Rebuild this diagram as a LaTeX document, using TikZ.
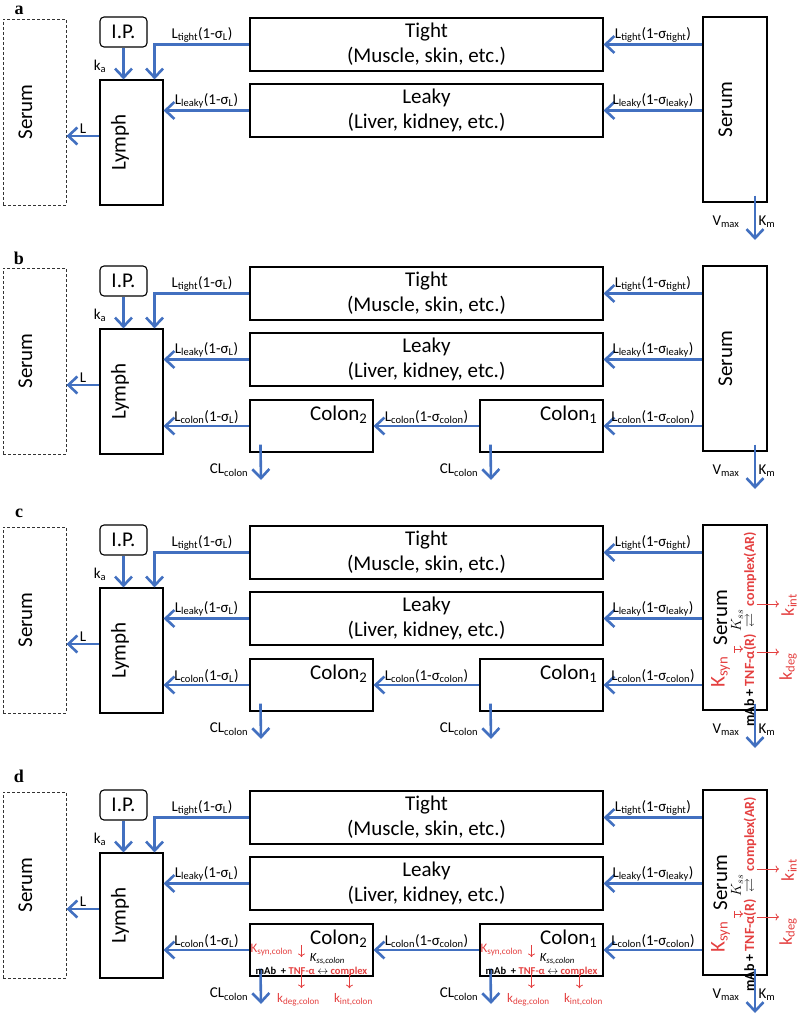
\documentclass[tikz,border=0pt]{standalone}
\usepackage{fontspec}
\setmainfont{Carlito}
\newfontfamily\letterfont{Liberation Serif}
\usepackage{amsmath,amssymb}
\usetikzlibrary{arrows.meta,positioning}
\definecolor{flowblue}{RGB}{66,112,192}
\definecolor{rxred}{RGB}{228,64,64}

\begin{document}
\begin{tikzpicture}[
        x=1pt, y=-1pt,
        box/.style={draw, line width=1.1pt, inner sep=0pt},
        dashbox/.style={draw=black!80, dash pattern=on 3pt off 2pt, line width=0.9pt, inner sep=0pt},
        big/.style={font=\fontsize{21}{25}\selectfont},
        lbl/.style={font=\fontsize{15}{18}\selectfont, inner sep=1pt},
        inbox/.style={font=\fontsize{13}{15}\selectfont, inner sep=0pt},
        flow/.style={draw=flowblue, line width=2.6pt, -{Straight Barb[length=9pt,width=17pt]}},
        rx/.style={draw=rxred, line width=0.8pt, -{To[length=3.5pt,width=7pt]}},
        rxbar/.style={draw=rxred, line width=0.8pt, {Bar[width=7pt]}-{To[length=3.5pt,width=7pt]}},
        letter/.style={font=\letterfont\bfseries\fontsize{18}{20}\selectfont, inner sep=0pt}
    ]
    \useasboundingbox (0,0) rectangle (800,1016);

    % parts that all four panels share
    \foreach \p/\o/\ly/\sx in {a/0/10/725.5, b/249/9/725.5, c/508/5/720.5, d/773/3/720.5} {
    \begin{scope}[shift={(0,\o)}, name prefix=\p-]
        \node[letter] (letter) at (19,\ly) {\p};
        \node[dashbox, minimum width=63pt, minimum height=186pt] (dserum) at (34.5,112) {};
        \node[big, rotate=90] (dserumtxt) at (25.5,112) {Serum};
        \node[box, rounded corners=4pt, minimum width=47pt, minimum height=30pt, big] (ip) at (123.5,32) {I.P.};
        \node[box, minimum width=63pt, minimum height=125pt] (lymph) at (131.5,142.5) {};
        \node[big, rotate=90] (lymphtxt) at (120,142.5) {Lymph};
        \node[box, big, align=center, minimum width=353pt, minimum height=53pt] (tight) at (426.5,44.5) {Tight\\(Muscle, skin, etc.)};
        \node[box, big, align=center, minimum width=353pt, minimum height=53pt] (leaky) at (426.5,110.5) {Leaky\\(Liver, kidney, etc.)};
        \node[box, minimum width=64pt, minimum height=185pt] (serum) at (735,109.5) {};
        \node[big, rotate=90] (serumtxt) at (\sx,109.5) {Serum};
        \coordinate (vout) at (755,240);

        \draw[flow] (ip) -- (ip |- lymph.north);
        \node[lbl] (ka) at (100,66) {k\textsubscript{a}};
        \draw[flow] (tight.west) -| ([xshift=-9pt]lymph.north east)
            node[lbl, above, pos=0.25] {L\textsubscript{tight}(1-σ\textsubscript{L})};
        \draw[flow] (leaky.west) -- (leaky.west -| lymph.east)
            node[lbl, above, midway] {L\textsubscript{leaky}(1-σ\textsubscript{L})};
        \draw[flow] ([yshift=6.5pt]lymph.west) -- ([yshift=6.5pt]lymph.west -| dserum.east)
            node[lbl, above, midway] {L};
        \draw[flow] (serum.west |- tight.east) -- (tight.east)
            node[lbl, above, midway] {L\textsubscript{tight}(1-σ\textsubscript{tight})};
        \draw[flow] (serum.west |- leaky.east) -- (leaky.east)
            node[lbl, above, midway] {L\textsubscript{leaky}(1-σ\textsubscript{leaky})};
        \draw[flow] ([xshift=20pt,yshift=7pt]serum.south) -- (vout);
        \node[lbl] (vmax) at (726,222) {V\textsubscript{max}};
        \node[lbl] (km) at (767,222) {K\textsubscript{m}};
    \end{scope}
    }

    % colon compartments (b, c, d)
    \foreach \p/\o in {b/249, c/508, d/773} {
    \begin{scope}[shift={(0,\o)}, name prefix=\p-]
        \node[box, minimum width=123pt, minimum height=52pt] (colontwo) at (311.5,177) {};
        \node[big, anchor=north east, inner sep=0pt] (colontwotxt) at ([xshift=-6pt,yshift=-6pt]colontwo.north east) {Colon\textsubscript{2}};
        \node[box, minimum width=123pt, minimum height=52pt] (colonone) at (541.5,177) {};
        \node[big, anchor=north east, inner sep=0pt] (colononetxt) at ([xshift=-6pt,yshift=-6pt]colonone.north east) {Colon\textsubscript{1}};
        \coordinate (cltwo) at (261,231);
        \coordinate (clone) at (491,231);

        \draw[flow] (colontwo.west) -- (colontwo.west -| lymph.east)
            node[lbl, above, midway] {L\textsubscript{colon}(1-σ\textsubscript{L})};
        \draw[flow] (colonone.west) -- (colontwo.east)
            node[lbl, above, midway] {L\textsubscript{colon}(1-σ\textsubscript{colon})};
        \draw[flow] (serum.west |- colonone.east) -- (colonone.east)
            node[lbl, above, midway] {L\textsubscript{colon}(1-σ\textsubscript{colon})};
        \draw[flow] ([xshift=11pt,yshift=8pt]colontwo.south west) -- (cltwo);
        \draw[flow] ([xshift=11pt,yshift=8pt]colonone.south west) -- (clone);
        \node[lbl] (cltwolbl) at (229,221) {CL\textsubscript{colon}};
        \node[lbl] (clonelbl) at (459,221) {CL\textsubscript{colon}};
    \end{scope}
    }

    % target binding in serum (c, d)
    \foreach \p/\o in {c/508, d/773} {
    \begin{scope}[shift={(0,\o)}, name prefix=\p-]
        \node[big, rotate=90, text=rxred] (ksyn) at (720.5,164) {K\textsubscript{syn}};
        \node[rotate=90, inner sep=0pt, font=\bfseries\fontsize{14}{16}\selectfont] (rxn) at (750,121.5)
            {mAb + \textcolor{rxred}{TNF-α(R)} $\smash{\overset{\textstyle K_{ss}}{\rightleftarrows}}$ \textcolor{rxred}{complex(AR)}};
        \node[rotate=90, text=rxred, font=\fontsize{18}{20}\selectfont] (kint) at (789,97) {k\textsubscript{int}};
        \node[rotate=90, text=rxred, font=\fontsize{18}{20}\selectfont] (kdeg) at (788,159) {k\textsubscript{deg}};
        \coordinate (synin) at (743,141);
        \coordinate (intout) at (779,96);
        \coordinate (degout) at (779,144);
        \draw[rxbar] (synin -| ksyn.south) -- (synin);
        \draw[rx] (intout -| rxn.south) -- (intout);
        \draw[rx] (degout -| rxn.south) -- (degout);
    \end{scope}
    }

    % target binding in the colon (d)
    \begin{scope}[shift={(0,773)}, name prefix=d-]
    \foreach \c in {colontwo, colonone} {
        \node[inbox, text=rxred, anchor=west] (ksyn\c) at ([xshift=1pt]\c.west) {K\textsubscript{syn,colon}};
        \draw[rx] ([xshift=52pt,yshift=5pt]\c.west) -- ([xshift=52pt,yshift=-7pt]\c.west);
        \node[inbox, font=\fontsize{12.5}{14}\selectfont\itshape] (kss\c) at ([xshift=78pt,yshift=-9pt]\c.west) {K\textsubscript{ss,colon}};
        \node[inbox, font=\bfseries\fontsize{10.5}{12}\selectfont] (rxn\c) at ([yshift=4.5pt]\c.south)
            {mAb\ \ + \textcolor{rxred}{TNF-α} $\leftrightarrow$ \textcolor{rxred}{complex}};
        \node[inbox, text=rxred] (kdeg\c) at ([xshift=49pt,yshift=-23pt]\c.south west) {k\textsubscript{deg,colon}};
        \node[inbox, text=rxred] (kint\c) at ([xshift=104pt,yshift=-23pt]\c.south west) {k\textsubscript{int,colon}};
        \coordinate (degtop\c) at (kdeg\c.north |- \c.south);
        \coordinate (inttop\c) at (kint\c.north |- \c.south);
        \draw[rx] ([xshift=3pt,yshift=3pt]degtop\c) -- ([xshift=3pt,yshift=5pt]kdeg\c.north);
        \draw[rx] ([xshift=-4pt,yshift=3pt]inttop\c) -- ([xshift=-4pt,yshift=5pt]kint\c.north);
    }
    \end{scope}
\end{tikzpicture}
\end{document}
